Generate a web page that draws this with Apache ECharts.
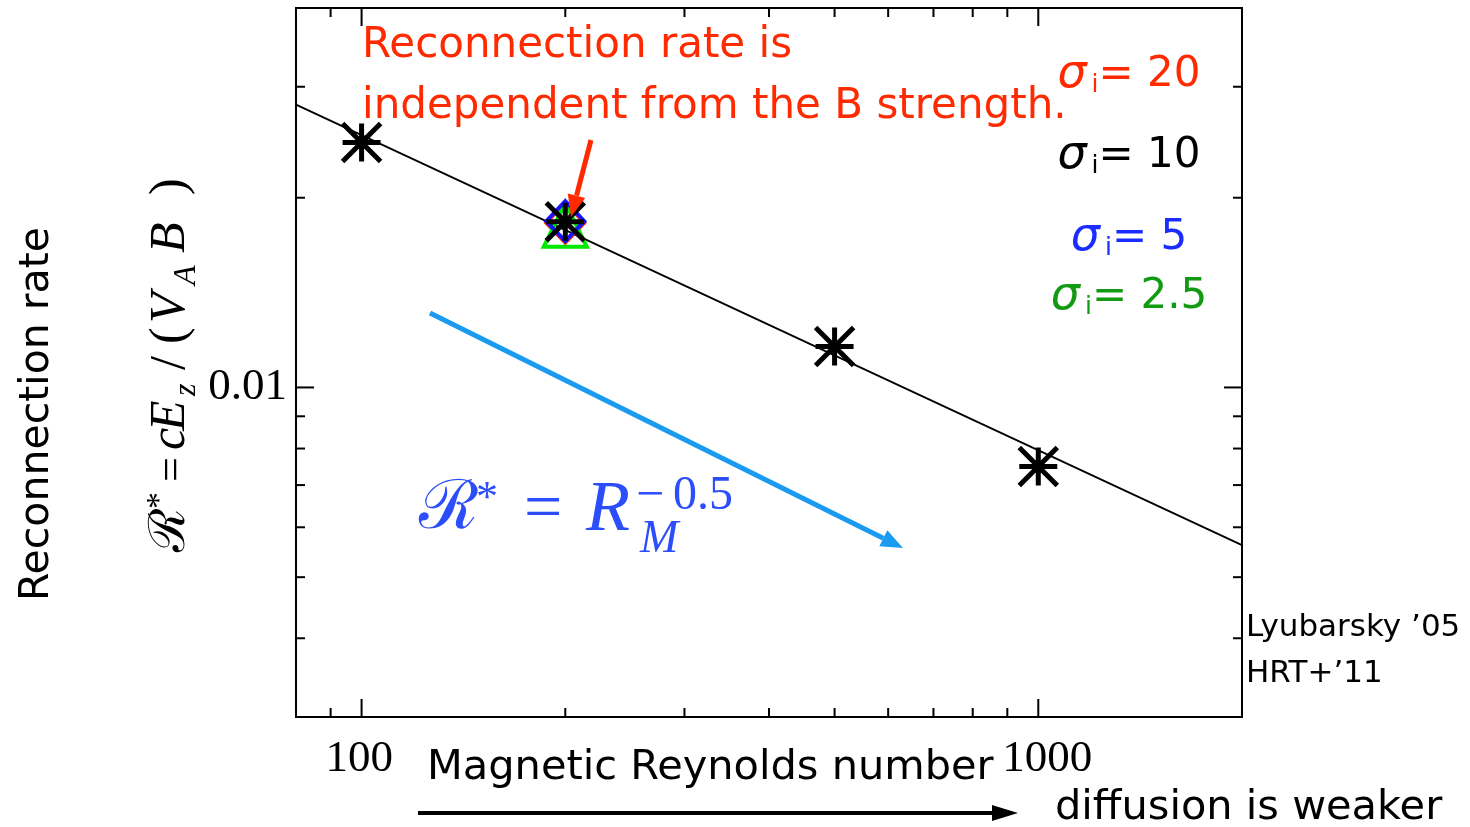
<!DOCTYPE html>
<html>
<head>
<meta charset="utf-8">
<script src="https://cdn.jsdelivr.net/npm/echarts@6/dist/echarts.min.js"></script>
<style>
  html, body { margin: 0; padding: 0; background: #ffffff; }
  #chart { width: 1470px; height: 827px; }
</style>
</head>
<body>
<div id="chart"></div>
<script>
// Axis extents (log scales)
const xRange = [80, 2000];
const yRange = [0.003, 0.04];

// Tick positions and labels
const xMajorTicks = [100, 1000];
const xMinorTicks = [90, 200, 300, 400, 500, 600, 700, 800, 900];
const yMajorTicks = [0.01];
const yMinorTicks = [0.004, 0.005, 0.006, 0.007, 0.008, 0.009, 0.02, 0.03];
const xTickLabels = ['100', '1000'];
const yTickLabels = ['0.01'];

// Magnetic Reynolds number of each run
const reynolds = [100, 200, 500, 1000];
const reynoldsB = [200];

// Reconnection rate for each magnetization sigma_i
const rateSigma10 = [0.02447, 0.01832, 0.01161, 0.00749];
const rateSigma20 = [0.01826];
const rateSigma5 = [0.01836];
const rateSigma2p5 = [0.01812];

// Reference scaling R* ~ R_M^-0.5 across the plotted range
const fitX = [80, 2000];
const fitY = [0.0281, 0.00562];

const RED = '#ff2a00';
const BLUE = '#1a2cff';
const GREEN = '#129a12';
const SKY = '#1a9bf0';

const chart = echarts.init(document.getElementById('chart'), null, { renderer: 'canvas' });

function pairs(xs, ys) { return xs.map((x, i) => [x, ys[i]]); }

// Tick marks drawn on both sides of the frame through the axis scales
function tickSeries(values, axis, len) {
  return {
    type: 'custom', silent: true, clip: false, z: 6,
    data: values.map(v => axis === 'x' ? [v, yRange[0]] : [xRange[0], v]),
    renderItem(params, api) {
      const st = { stroke: '#000', lineWidth: 2 };
      if (axis === 'x') {
        const v = api.value(0);
        const a = api.coord([v, yRange[0]]);
        const b = api.coord([v, yRange[1]]);
        return { type: 'group', children: [
          { type: 'line', shape: { x1: a[0], y1: a[1], x2: a[0], y2: a[1] - len }, style: st },
          { type: 'line', shape: { x1: b[0], y1: b[1], x2: b[0], y2: b[1] + len }, style: st }
        ] };
      }
      const v = api.value(1);
      const a = api.coord([xRange[0], v]);
      const b = api.coord([xRange[1], v]);
      return { type: 'group', children: [
        { type: 'line', shape: { x1: a[0], y1: a[1], x2: a[0] + len, y2: a[1] }, style: st },
        { type: 'line', shape: { x1: b[0], y1: b[1], x2: b[0] - len, y2: b[1] }, style: st }
      ] };
    }
  };
}

// Tick labels placed at their axis values
function labelSeries(values, labels, axis) {
  return {
    type: 'custom', silent: true, clip: false, z: 6,
    data: values.map(v => axis === 'x' ? [v, yRange[0]] : [xRange[0], v]),
    renderItem(params, api) {
      const label = labels[params.dataIndex];
      if (axis === 'x') {
        const p = api.coord([api.value(0), yRange[0]]);
        return { type: 'text', x: p[0] - 36, y: p[1] + 42, style: {
          text: label, font: '45px "Liberation Serif", serif', fill: '#000',
          textAlign: 'left', textVerticalAlign: 'middle' } };
      }
      const p = api.coord([xRange[0], api.value(1)]);
      return { type: 'text', x: p[0] - 9, y: p[1], style: {
        text: label, font: '45px "Liberation Serif", serif', fill: '#000',
        textAlign: 'right', textVerticalAlign: 'middle' } };
    }
  };
}

const asterisk = 'path://M0,0L2,2M0,2L2,0M1,0L1,2M0,1L2,1';

// Straight arrow made of a shaft and a filled head
function arrow(x1, y1, x2, y2, w, headLen, headHalf, color) {
  const dx = x2 - x1, dy = y2 - y1;
  const L = Math.sqrt(dx * dx + dy * dy);
  const ux = dx / L, uy = dy / L;
  const px = -uy, py = ux;
  const bx = x2 - ux * headLen, by = y2 - uy * headLen;
  return [
    { type: 'line', shape: { x1: x1, y1: y1, x2: bx, y2: by },
      style: { stroke: color, lineWidth: w }, z: 20 },
    { type: 'polygon', shape: { points: [[x2, y2], [bx + px * headHalf, by + py * headHalf], [bx - px * headHalf, by - py * headHalf]] },
      style: { fill: color }, z: 20 }
  ];
}

const sans = '"DejaVu Sans", sans-serif';
const serifIt = 'italic 50px "Liberation Serif", serif';
const serifUp = '50px "Liberation Serif", serif';

function txt(x, y, text, font, fill, align) {
  return { type: 'text', x: x, y: y, z: 20, style: { text: text, font: font, fill: fill,
    textAlign: align || 'left', textVerticalAlign: 'middle' } };
}

function sigmaLabel(y, value, color) {
  return { type: 'text', x: 1129, y: y, z: 20, style: {
    text: '{s|σ}{i|\u2009i}{t|= ' + value + '}',
    textAlign: 'center', textVerticalAlign: 'middle',
    rich: {
      s: { font: 'italic 46px ' + sans, fill: color, lineHeight: 46 },
      i: { font: '25px ' + sans, fill: color, lineHeight: 30, verticalAlign: 'bottom' },
      t: { font: '42px ' + sans, fill: color, lineHeight: 46 }
    }
  } };
}

// Vertical axis formula, read bottom to top
const yFormula = {
  type: 'group', x: 188, y: 555, rotation: Math.PI / 2, z: 20,
  children: [
    txt(3, -17, 'ℛ', '50px "DejaVu Serif", serif', '#000'),
    txt(46, -28, '*', '34px "Liberation Serif", serif', '#000'),
    txt(73, -15, '=', '44px "Liberation Serif", serif', '#000'),
    txt(105, -17, 'c', serifIt, '#000'),
    txt(124, -17, 'E', serifIt, '#000'),
    txt(159, -1, 'z', 'italic 32px "Liberation Serif", serif', '#000'),
    txt(185, -17, '/', serifUp, '#000'),
    txt(211, -17, '(', serifUp, '#000'),
    txt(232, -17, 'V', serifIt, '#000'),
    txt(270, -1, 'A', 'italic 32px "Liberation Serif", serif', '#000'),
    txt(302, -17, 'B', serifIt, '#000'),
    txt(360, -17, ')', serifUp, '#000')
  ]
};

// Scaling law written inside the plot
const FB = '#2b4dfa';
const scaling = [
  txt(419, 510, 'ℛ', '68px "DejaVu Serif", serif', FB),
  txt(476, 499, '*', '44px "Liberation Serif", serif', FB),
  txt(524, 511, '=', '68px "Liberation Serif", serif', FB),
  txt(586, 511, 'R', 'italic 72px "Liberation Serif", serif', FB),
  txt(640, 540, 'M', 'italic 46px "Liberation Serif", serif', FB),
  txt(636, 497, '−', '50px "Liberation Serif", serif', FB),
  txt(673, 496, '0.5', '48px "Liberation Serif", serif', FB)
];

const option = {
  animation: false,
  backgroundColor: '#ffffff',
  grid: { left: 296, top: 8, right: 228, bottom: 110, show: true,
    borderColor: '#000', borderWidth: 2, backgroundColor: 'transparent' },
  xAxis: { type: 'log', logBase: 10, min: xRange[0], max: xRange[1],
    axisLine: { show: false }, axisTick: { show: false }, axisLabel: { show: false }, splitLine: { show: false } },
  yAxis: { type: 'log', logBase: 10, min: yRange[0], max: yRange[1],
    axisLine: { show: false }, axisTick: { show: false }, axisLabel: { show: false }, splitLine: { show: false } },
  series: [
    tickSeries(xMajorTicks, 'x', 18),
    tickSeries(xMinorTicks, 'x', 9),
    tickSeries(yMajorTicks, 'y', 18),
    tickSeries(yMinorTicks, 'y', 9),
    labelSeries(xMajorTicks, xTickLabels, 'x'),
    labelSeries(yMajorTicks, yTickLabels, 'y'),
    {
      name: 'fit', type: 'line', data: pairs(fitX, fitY), showSymbol: false, symbol: 'none',
      lineStyle: { color: '#000', width: 1.8 }, z: 3, silent: true
    },
    {
      name: 'sigma20', type: 'scatter', data: pairs(reynoldsB, rateSigma20),
      symbol: 'diamond', symbolSize: [38, 40],
      itemStyle: { color: 'rgba(0,0,0,0)', borderColor: RED, borderWidth: 4, opacity: 1 }, z: 4
    },
    {
      name: 'sigma2.5', type: 'scatter', data: pairs(reynoldsB, rateSigma2p5),
      symbol: 'triangle', symbolSize: [43, 44],
      itemStyle: { color: 'rgba(0,0,0,0)', borderColor: '#00e800', borderWidth: 4, opacity: 1 }, z: 5
    },
    {
      name: 'sigma5', type: 'scatter', data: pairs(reynoldsB, rateSigma5),
      symbol: 'diamond', symbolSize: [38, 40],
      itemStyle: { color: 'rgba(0,0,0,0)', borderColor: '#1414ff', borderWidth: 4, opacity: 1 }, z: 6
    },
    {
      name: 'sigma10', type: 'scatter', data: pairs(reynolds, rateSigma10),
      symbol: asterisk, symbolSize: 38,
      itemStyle: { color: 'rgba(0,0,0,0)', borderColor: '#000', borderWidth: 5, opacity: 1 }, z: 7
    }
  ],
  graphic: [
    txt(362, 46, 'Reconnection rate is', '42px ' + sans, RED),
    txt(362, 107, 'independent from the B strength.', '42px ' + sans, RED),
    ...arrow(591, 140, 571, 217, 5, 22, 9, RED),
    sigmaLabel(75, '20', RED),
    sigmaLabel(156, '10', '#000'),
    sigmaLabel(238, '5', BLUE),
    sigmaLabel(297, '2.5', GREEN),
    ...arrow(430, 313, 903, 548, 5, 22, 9, SKY),
    ...scaling,
    yFormula,
    { type: 'text', x: 37, y: 414, rotation: Math.PI / 2, z: 20, style: {
      text: 'Reconnection rate', font: '41px ' + sans, fill: '#000',
      textAlign: 'center', textVerticalAlign: 'middle' } },
    txt(427, 768, 'Magnetic Reynolds number', '41.5px ' + sans, '#000'),
    txt(1055, 808, 'diffusion is weaker', '41.5px ' + sans, '#000'),
    ...arrow(418, 813, 1018, 813, 4, 26, 8, '#000'),
    txt(1246, 628, 'Lyubarsky ’05', '31px ' + sans, '#000'),
    txt(1246, 674, 'HRT+’11', '31px ' + sans, '#000')
  ]
};

chart.setOption(option);
</script>
</body>
</html>
